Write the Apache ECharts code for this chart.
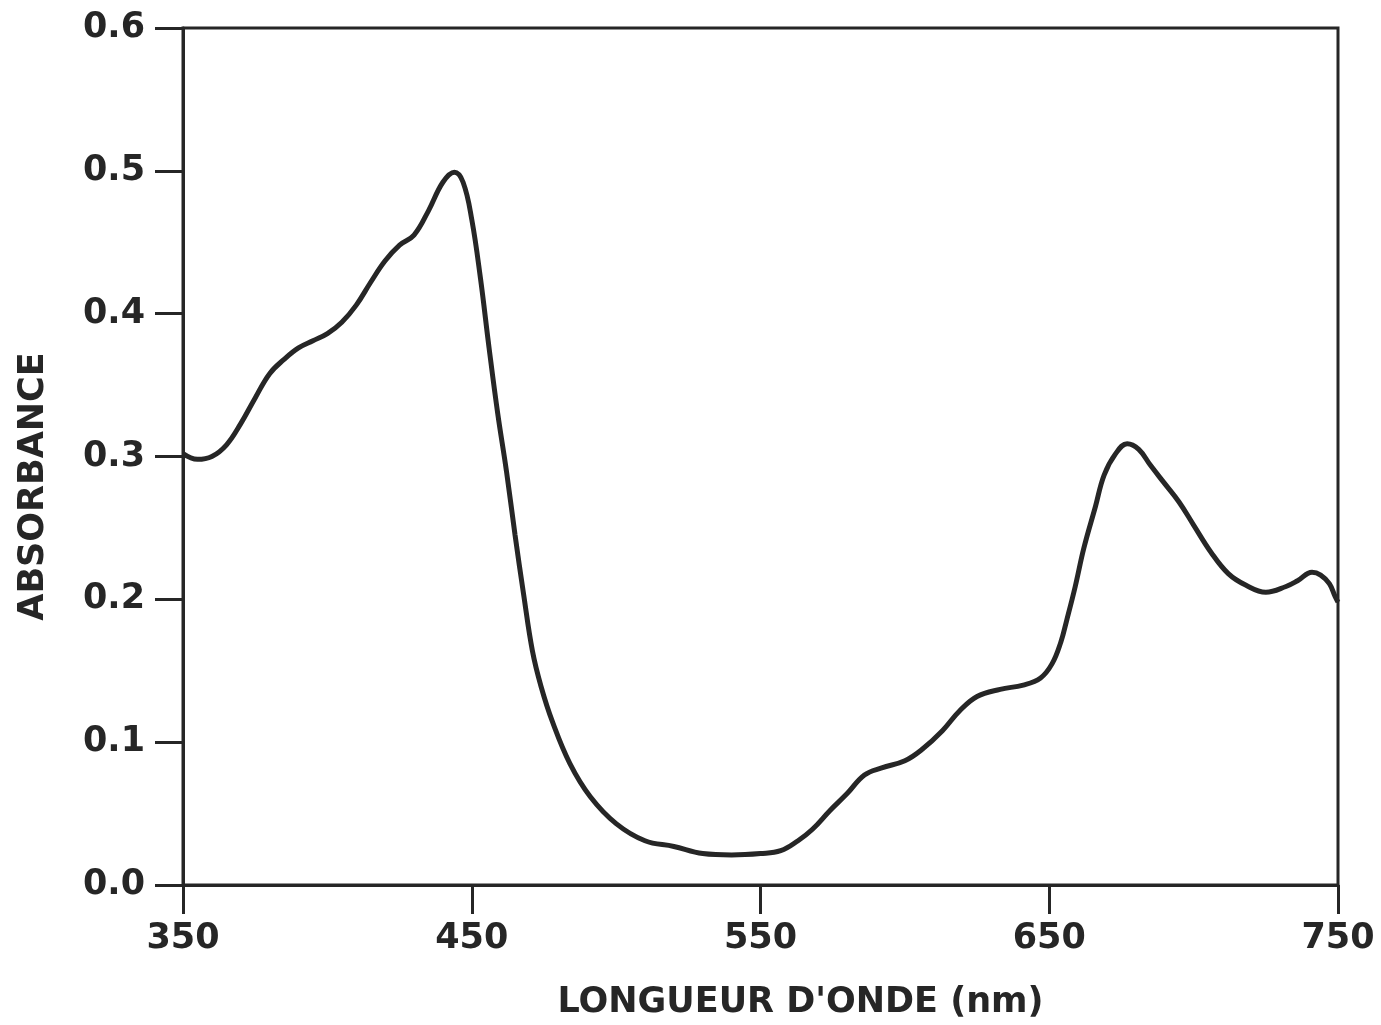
<!DOCTYPE html>
<html>
<head>
<meta charset="utf-8">
<script src="https://cdn.jsdelivr.net/npm/echarts@6/dist/echarts.min.js"></script>
<style>
html, body { margin: 0; padding: 0; background: #fff; }
#chart { width: 1381px; height: 1025px; }
</style>
</head>
<body>
<div id="chart"></div>
<script>
// absorbance spectrum, values
var wavelength = [350, 355, 360, 365, 370, 375, 380, 385, 390, 395, 400, 405, 410, 415, 420, 425, 430, 435, 440, 444, 447, 450, 453, 456, 459, 462, 465, 468, 471, 474, 478, 484, 491, 500, 510, 520, 530, 540, 550, 557, 563, 568, 574, 580, 586, 592, 600, 606, 613, 619, 625, 633, 641, 647, 651, 654, 656, 659, 662, 666, 669, 673, 677, 681, 685, 690, 695, 700, 706, 712, 718, 725, 732, 736, 741, 744, 747, 749, 750];
var absorbance = [0.302, 0.298, 0.300, 0.308, 0.323, 0.341, 0.358, 0.368, 0.376, 0.381, 0.386, 0.394, 0.406, 0.422, 0.437, 0.448, 0.455, 0.472, 0.492, 0.499, 0.492, 0.466, 0.425, 0.376, 0.330, 0.290, 0.245, 0.203, 0.164, 0.139, 0.114, 0.085, 0.062, 0.043, 0.031, 0.027, 0.022, 0.021, 0.022, 0.024, 0.031, 0.039, 0.052, 0.064, 0.077, 0.082, 0.087, 0.095, 0.108, 0.122, 0.132, 0.137, 0.140, 0.145, 0.155, 0.170, 0.185, 0.209, 0.236, 0.265, 0.287, 0.302, 0.309, 0.305, 0.294, 0.281, 0.268, 0.252, 0.233, 0.218, 0.210, 0.205, 0.209, 0.213, 0.219, 0.217, 0.211, 0.202, 0.198];
var x_ticks = [350, 450, 550, 650, 750];
var y_ticks = [0.0, 0.1, 0.2, 0.3, 0.4, 0.5, 0.6];

var ink = '#262626';
var font = 'DejaVu Sans';

var series_data = [];
for (var i = 0; i < wavelength.length; i++) {
    series_data.push([wavelength[i], absorbance[i]]);
}

var option = {
    animation: false,
    backgroundColor: '#fff',
    grid: {
	left: 183,
	right: 43,
	top: 28,
	bottom: 140,
	show: true,
	borderColor: ink,
	borderWidth: 3
    },
    xAxis: {
	type: 'value',
	min: x_ticks[0],
	max: x_ticks[x_ticks.length - 1],
	interval: 100,
	name: "LONGUEUR D'ONDE (nm)",
	nameLocation: 'middle',
	nameGap: 100,
	nameTextStyle: {
	    color: ink,
	    fontFamily: font,
	    fontWeight: 'bold',
	    fontSize: 35,
	    padding: [0, 0, 0, 80]
	},
	axisLine: { show: true, lineStyle: { color: ink, width: 3 } },
	axisTick: { show: true, inside: false, length: 29, lineStyle: { color: ink, width: 3 } },
	axisLabel: {
	    margin: 36,
	    color: ink,
	    fontFamily: font,
	    fontWeight: 'bold',
	    fontSize: 35
	},
	splitLine: { show: false }
    },
    yAxis: {
	type: 'value',
	min: y_ticks[0],
	max: y_ticks[y_ticks.length - 1],
	interval: 0.1,
	name: 'ABSORBANCE',
	nameLocation: 'middle',
	nameGap: 132,
	nameTextStyle: {
	    color: ink,
	    fontFamily: font,
	    fontWeight: 'bold',
	    fontSize: 35,
	    padding: [0, 60, 0, 0]
	},
	axisLine: { show: true, lineStyle: { color: ink, width: 3 } },
	axisTick: { show: true, inside: false, length: 28, lineStyle: { color: ink, width: 3 } },
	axisLabel: {
	    margin: 38,
	    color: ink,
	    fontFamily: font,
	    fontWeight: 'bold',
	    fontSize: 35,
	    formatter: function (v) { return v.toFixed(1); }
	},
	splitLine: { show: false }
    },
    series: [
	{
	    type: 'line',
	    data: series_data,
	    smooth: 0.4,
	    showSymbol: false,
	    lineStyle: { color: ink, width: 5 }
	}
    ]
};

var chart = echarts.init(document.getElementById('chart'));
chart.setOption(option);
</script>
</body>
</html>
